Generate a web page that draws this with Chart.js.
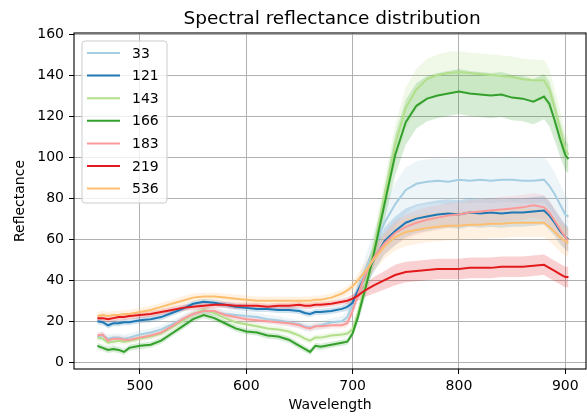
<!DOCTYPE html>
<html>
<head>
<meta charset="utf-8">
<script src="https://cdn.jsdelivr.net/npm/chart.js@4.4.1/dist/chart.umd.min.js"></script>
<style>
  html, body { margin: 0; padding: 0; background: #fff; }
  #wrap { width: 587px; height: 417px; }
</style>
</head>
<body>
<div id="wrap"><canvas id="specChart" width="587" height="417"></canvas></div>
<script>
// wavelengths (nm) the curves were read at
const wavelengths = [460,465,470,475,480,485,490,500,510,520,530,540,550,560,570,580,590,600,610,620,630,640,650,655,660,665,670,680,690,695,700,705,710,715,720,730,740,750,760,770,780,790,800,810,820,830,840,850,860,870,880,885,890,895,900,903];

const seriesNames = ['33', '121', '143', '166', '183', '219', '536'];
const seriesColors = ['#a6cee3', '#1f78b4', '#b2df8a', '#33a02c', '#fb9a99', '#e31a1c', '#fdbf6f'];

// mean reflectance per class
const mean33  = [12.5,13,11.5,12,12,11.5,12,13.5,14.5,16,18.5,21,23.5,25,24.5,23.5,23,22.5,22,21,20.5,19.5,18.5,17.5,17,17.5,18,19.5,20,22,28,35,42,49,56,68,77,84,87,88,88.5,88,89,88.5,89,88.5,89,89,88.5,88.5,89,86,82,77,72,71];
const mean121 = [20,19.5,18,19,19,19.5,19.5,20.5,21,22,24,26,28.5,29.5,29,28,27,26.5,26,26,25.5,25.5,25,24,23.5,24.5,24.5,25,26,27,29,35,40,45,50,59,64,68,70,71,72,72.5,72,73,72.5,73,72.5,73,73,73.5,74,71.5,68,64,61,60];
const mean143 = [12,11.5,9.5,10,10.5,10,10.5,11.5,12.5,14,17,20,23.5,25.5,24,21.5,19.5,18.5,17.5,16.5,16,15,13,11.5,10.5,12,12,13,13.5,14,16,24,34,45,56,81,106,124,133,138,140,141,141.5,141,140.5,140,139.5,139,138,137.5,137.5,133,124,114,104,101];
const mean166 = [8,7,6,6.5,6,5,7,8,8.5,10.5,14,17.5,21,23,21.5,19,16.5,15,14.5,13,12.5,11,8,6.5,5,8,7.5,8.5,9.5,10,14,22,32,42,53,77,101,117,125,128.5,130,131,132,131,130.5,130,130.5,129,128.5,127,129.5,126,118,109,101,99];
const mean183 = [13,13.5,10.5,11.5,11.5,11,11,12,13,14.5,17.5,21,23.5,25,25,23,22,21,20.5,20,19.5,19,18,17,16.5,17.5,17.5,18,18,19,25,33,40,46,51,58,63,66,68,69.5,70.5,71.5,72,73,73.5,74,74.5,75,75.5,76.5,75.5,73,69,65,61,59.5];
const mean219 = [21.5,21.5,21,21.5,22,22,22.5,23,23.5,24.5,25.5,26.5,27,27.5,28,28,27.5,27.5,27.5,27,27.5,27.5,28,27.5,27.5,28,28,28.5,29.5,30,31,32.5,34.5,36,37.5,40,42.5,44,44.5,45,45.5,45.5,45.5,46,46,46,46.5,46.5,46.5,47,47.5,46,44.5,43,41.5,41.5];
const mean536 = [22.5,23,22.5,23,23,23.5,23.5,24.5,25.5,27,28.5,30,31.5,32,32,31.5,31,30.5,30,30,30,30,30,30,30,30.5,30.5,31.5,33.5,35,37,40,43,46.5,50,56.5,61,63.5,64.5,65.5,66,66.5,66.5,67,67,67.5,67.5,68,68,68,68,66,63.5,61,59,58];

// standard deviation per class (half width of the shaded band)
const std33  = [2,2,2,2,2,2,2,2,2,2,2,2,2,2,2,2,2,2,2,2,2,2,2,2,2,2,2,2,2.5,3,4,5,6,7,8,9.5,10.5,11,11,11,11,11,11,11,11,11,11,11,11,11,11,11,10.5,10,9.5,9];
const std121 = [1.5,1.5,1.5,1.5,1.5,1.5,1.5,1.5,1.5,1.5,1.5,1.5,1.5,1.5,1.5,1.5,1.5,1.5,1.5,1.5,1.5,1.5,1.5,1.5,1.5,1.5,1.5,1.5,1.5,2,2.5,3.5,4.5,5.5,6,6.5,7,7,7,7,7,7,7,7,7,7,7,7,7,7,7,7,6.5,6.5,6,6];
const std143 = [1.5,1.5,1.5,1.5,1.5,1.5,1.5,1.5,1.5,1.5,1.5,1.5,1.5,1.5,1.5,1.5,1.5,1.5,1.5,1.5,1.5,1.5,1.5,1.5,1.5,1.5,1.5,1.5,1.5,1.5,2,3,4,5,6,8,9.5,10,10,10,10,10.5,10,10,10,10,10,10,10,10,10,10,9.5,9,8,8];
const std166 = [1.5,1.5,1.5,1.5,1.5,1.5,1.5,1.5,1.5,1.5,1.5,1.5,1.5,1.5,1.5,1.5,1.5,1.5,1.5,1.5,1.5,1.5,1.5,1.5,1.5,1.5,1.5,1.5,1.5,1.5,2,3,4,5,6,8,10,11,11,11,11,11,11,11,11,11,11,11,11,11,11,11,10,8.5,7.5,7];
const std183 = [1.5,1.5,1.5,1.5,1.5,1.5,1.5,1.5,1.5,1.5,1.5,1.5,1.5,1.5,1.5,1.5,1.5,1.5,1.5,1.5,1.5,1.5,1.5,1.5,1.5,1.5,1.5,1.5,1.5,2,2.5,3,4,4.5,5,5.5,6,6,6,6,6,6,6,6,6,6,6,6,6,6,6,6,6,6,6,6];
const std219 = [1.5,1.5,1.5,1.5,1.5,1.5,1.5,1.5,1.5,1.5,1.5,1.5,1.5,1.5,1.5,1.5,1.5,1.5,1.5,1.5,1.5,1.5,1.5,1.5,1.5,1.5,1.5,1.5,1.5,1.5,2,2.5,3,3.5,4,4.5,5,5,5,5,5,5,5,5,5,5,5,5,5,5,5,5,5,5,5,5];
const std536 = [2,2,2,2,2,2,2,2,2,2,2,2,2,2,2,2,2,2,2,2,2,2,2,2,2,2,2,2,2,2,2.5,3,4,5,5.5,6,6.5,7,7,7,7,7,7,7,7,7,7,7,7,7,7,7,7,7,7,7];

const meanSeries = [mean33, mean121, mean143, mean166, mean183, mean219, mean536];
const stdSeries = [std33, std121, std143, std166, std183, std219, std536];

const xTicks = [500, 600, 700, 800, 900];
const yTicks = [0, 20, 40, 60, 80, 100, 120, 140, 160];
const chartTitle = 'Spectral reflectance distribution';

function hexToRgba(hex, a) {
  const n = parseInt(hex.slice(1), 16);
  return `rgba(${(n >> 16) & 255}, ${(n >> 8) & 255}, ${n & 255}, ${a})`;
}

function toPoints(vals, offs, sign) {
  return wavelengths.map((w, k) => ({ x: w, y: vals[k] + sign * (offs ? offs[k] : 0) }));
}

const datasets = [];
meanSeries.forEach((m, i) => {
  const s = stdSeries[i];
  datasets.push({
    label: seriesNames[i] + ' upper',
    data: toPoints(m, s, 1),
    borderColor: 'transparent',
    borderWidth: 0,
    backgroundColor: hexToRgba(seriesColors[i], 0.2),
    pointRadius: 0,
    fill: '+1',
    order: 20 - i
  });
  datasets.push({
    label: seriesNames[i] + ' lower',
    data: toPoints(m, s, -1),
    borderColor: 'transparent',
    borderWidth: 0,
    pointRadius: 0,
    fill: false,
    order: 20 - i
  });
  datasets.push({
    label: seriesNames[i],
    data: toPoints(m, null, 0),
    borderColor: seriesColors[i],
    borderWidth: 2,
    pointRadius: 0,
    fill: false,
    tension: 0,
    order: 10 - i
  });
});

// full box round the plot, like matplotlib spines, plus the title centred on the axes
const frameBox = {
  id: 'frameBox',
  afterDatasetsDraw(chart) {
    const { ctx, chartArea: a } = chart;
    ctx.save();
    ctx.strokeStyle = '#000';
    ctx.lineWidth = 1.1;
    ctx.strokeRect(a.left, a.top, a.right - a.left, a.bottom - a.top);
    ctx.font = '18.5px "DejaVu Sans"';
    ctx.fillStyle = '#000';
    ctx.textAlign = 'center';
    ctx.textBaseline = 'alphabetic';
    ctx.fillText(chartTitle, (a.left + a.right) / 2 + 2, 24.3);
    ctx.restore();
  }
};

// legend inside the axes, top left
const insideLegend = {
  id: 'insideLegend',
  afterDraw(chart) {
    const ctx = chart.ctx;
    const x0 = 82, y0 = 41, w = 85, h = 162, r = 3;
    ctx.save();
    ctx.beginPath();
    ctx.moveTo(x0 + r, y0);
    ctx.arcTo(x0 + w, y0, x0 + w, y0 + h, r);
    ctx.arcTo(x0 + w, y0 + h, x0, y0 + h, r);
    ctx.arcTo(x0, y0 + h, x0, y0, r);
    ctx.arcTo(x0, y0, x0 + w, y0, r);
    ctx.closePath();
    ctx.fillStyle = 'rgba(255,255,255,0.8)';
    ctx.fill();
    ctx.strokeStyle = '#cccccc';
    ctx.lineWidth = 1;
    ctx.stroke();
    ctx.font = '14px "DejaVu Sans"';
    ctx.textBaseline = 'middle';
    ctx.fillStyle = '#000';
    seriesNames.forEach((name, i) => {
      const y = 53 + i * 22.6;
      ctx.strokeStyle = seriesColors[i];
      ctx.lineWidth = 2;
      ctx.beginPath();
      ctx.moveTo(87, y);
      ctx.lineTo(120, y);
      ctx.stroke();
      ctx.fillText(name, 132, y + 1);
    });
    ctx.restore();
  }
};

Chart.defaults.font.family = '"DejaVu Sans"';
Chart.defaults.color = '#000';

new Chart(document.getElementById('specChart'), {
  type: 'line',
  data: { datasets: datasets },
  options: {
    responsive: false,
    animation: false,
    devicePixelRatio: 1,
    layout: { padding: { left: 0, right: 1, top: 33, bottom: 0 } },
    plugins: {
      legend: { display: false },
      tooltip: { enabled: false },
      title: { display: false }
    },
    scales: {
      x: {
        type: 'linear',
        min: 438,
        max: 919.5,
        afterBuildTicks: (scale) => { scale.ticks = xTicks.map(v => ({ value: v })); },
        afterFit: (scale) => { scale.height = 48; },
        ticks: { font: { size: 14 }, padding: 4, maxRotation: 0 },
        grid: { color: '#b0b0b0', lineWidth: 1, tickColor: '#000', tickLength: 5 },
        border: { display: false },
        title: { display: true, text: 'Wavelength', font: { size: 14 }, padding: { bottom: 3 } }
      },
      y: {
        type: 'linear',
        min: -3.3,
        max: 160.5,
        afterBuildTicks: (scale) => { scale.ticks = yTicks.map(v => ({ value: v })); },
        afterFit: (scale) => { scale.width = 74; },
        ticks: { font: { size: 14 }, padding: 5 },
        grid: { color: '#b0b0b0', lineWidth: 1, tickColor: '#000', tickLength: 5 },
        border: { display: false },
        title: { display: true, text: 'Reflectance', font: { size: 14 }, padding: { top: 12 } }
      }
    }
  },
  plugins: [frameBox, insideLegend]
});
</script>
</body>
</html>
